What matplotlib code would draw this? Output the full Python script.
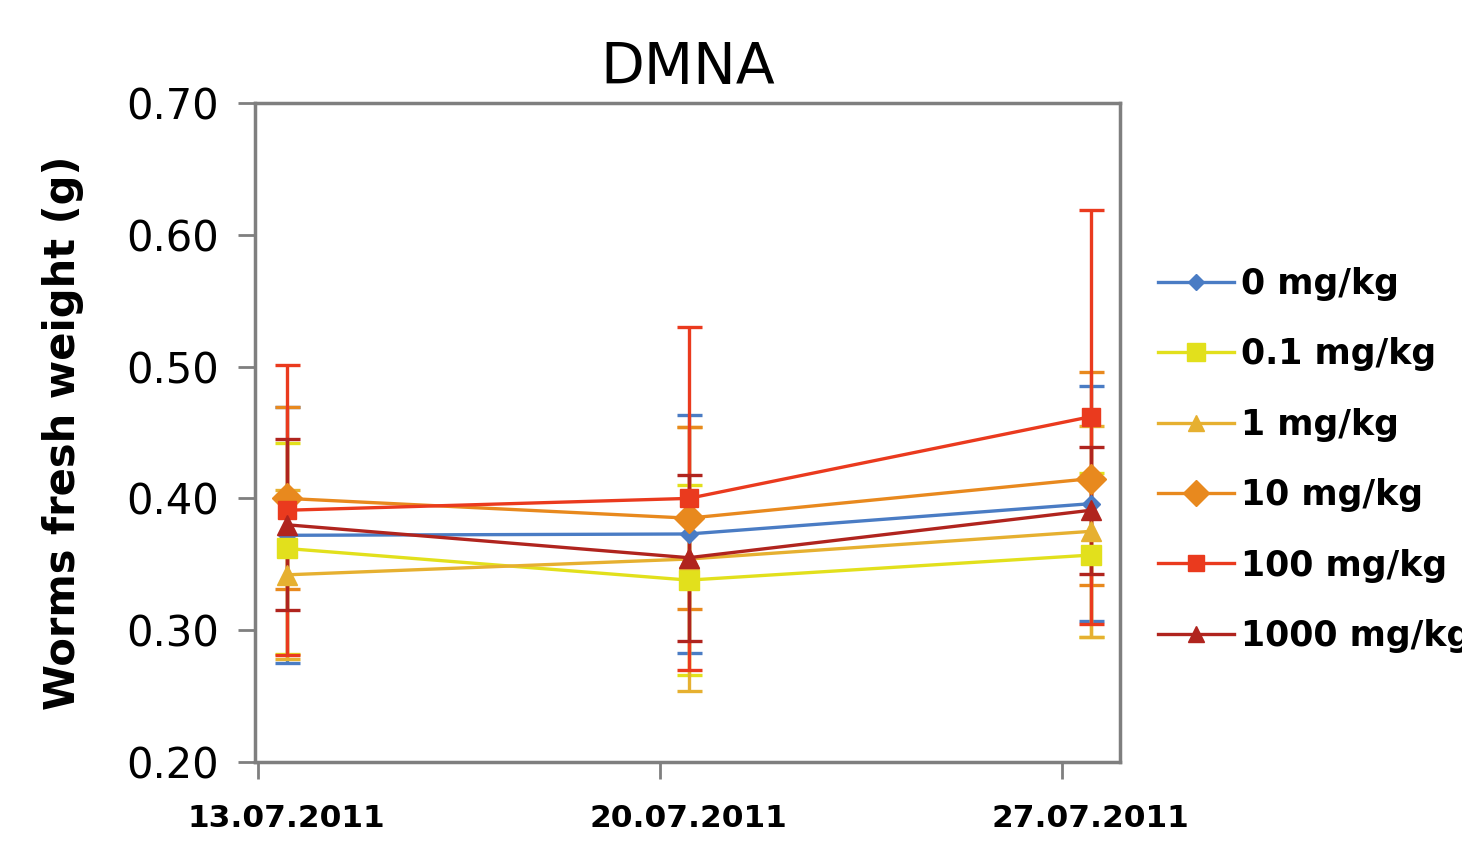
import matplotlib
matplotlib.use("Agg")
import matplotlib.pyplot as plt
from matplotlib.lines import Line2D
import numpy as np

# ── Data ──────────────────────────────────────────────────────────────────────
dates = ["13.07.2011", "20.07.2011", "27.07.2011"]
day_offsets = [0, 7, 14]          # sampling days relative to first date
series_labels = ["0 mg/kg", "0.1 mg/kg", "1 mg/kg", "10 mg/kg", "100 mg/kg", "1000 mg/kg"]

mean_0    = [0.372, 0.373, 0.396]
mean_01   = [0.362, 0.338, 0.357]
mean_1    = [0.342, 0.354, 0.375]
mean_10   = [0.400, 0.385, 0.415]
mean_100  = [0.391, 0.400, 0.462]
mean_1000 = [0.380, 0.355, 0.391]

sd_0    = [0.097, 0.090, 0.089]
sd_01   = [0.080, 0.072, 0.062]
sd_1    = [0.064, 0.100, 0.080]
sd_10   = [0.069, 0.069, 0.081]
sd_100  = [0.110, 0.130, 0.157]
sd_1000 = [0.065, 0.063, 0.048]

means = [mean_0, mean_01, mean_1, mean_10, mean_100, mean_1000]
sds = [sd_0, sd_01, sd_1, sd_10, sd_100, sd_1000]

# ── Style ─────────────────────────────────────────────────────────────────────
COLORS  = ["#4a7cc4", "#e2e01c", "#e6b030", "#e8891e", "#ea3a1e", "#b0241e"]
MARKERS = ["D", "s", "^", "D", "s", "^"]
MSIZES  = [9, 15, 14, 15, 13, 14]
GRAY = "#7f7f7f"

fig = plt.figure(figsize=(14.62, 8.43), dpi=100)
ax = fig.add_axes([0.1744, 0.0961, 0.5917, 0.7817])

x = np.array(day_offsets) + 0.5
handles = []
for m, s, c, mk, ms, lab in zip(means, sds, COLORS, MARKERS, MSIZES, series_labels):
    ax.errorbar(x, m, yerr=s, color=c, marker=mk, markersize=ms, lw=2.4,
                elinewidth=2.4, capsize=9, capthick=2.4)
    handles.append(Line2D([], [], color=c, marker=mk, markersize=ms * 0.85,
                          lw=2.4, label=lab))

ax.set_xlim(-0.05, 15.01)
ax.set_ylim(0.20, 0.70)
yt = np.arange(0.20, 0.701, 0.10)
ax.set_yticks(yt)
ax.set_yticklabels([f"{v:.2f}" for v in yt], fontsize=30)
ax.tick_params(axis="y", pad=14)

# tick marks at the date boundaries, labels centred on the points
ax.set_xticks(day_offsets)
ax.set_xticklabels([])
ax.set_xticks(x, minor=True)
ax.set_xticklabels(dates, minor=True, fontsize=22.5, fontweight="bold")
ax.tick_params(axis="x", which="minor", length=0, pad=30)
ax.tick_params(axis="both", which="major", length=12, width=2, color=GRAY)

for sp in ax.spines.values():
    sp.set_color(GRAY)
    sp.set_linewidth(2.5)

ax.set_ylabel("Worms fresh weight (g)", fontsize=30, fontweight="bold", labelpad=30)
ax.set_title("DMNA", fontsize=41, pad=14)

fig.legend(handles=handles, loc="upper left", bbox_to_anchor=(0.7825, 0.7),
           frameon=False, prop={"weight": "bold", "size": 25}, handlelength=2.2,
           handletextpad=0.2, labelspacing=1.05, borderaxespad=0)

fig.savefig("out.png", dpi=100, facecolor="white")
